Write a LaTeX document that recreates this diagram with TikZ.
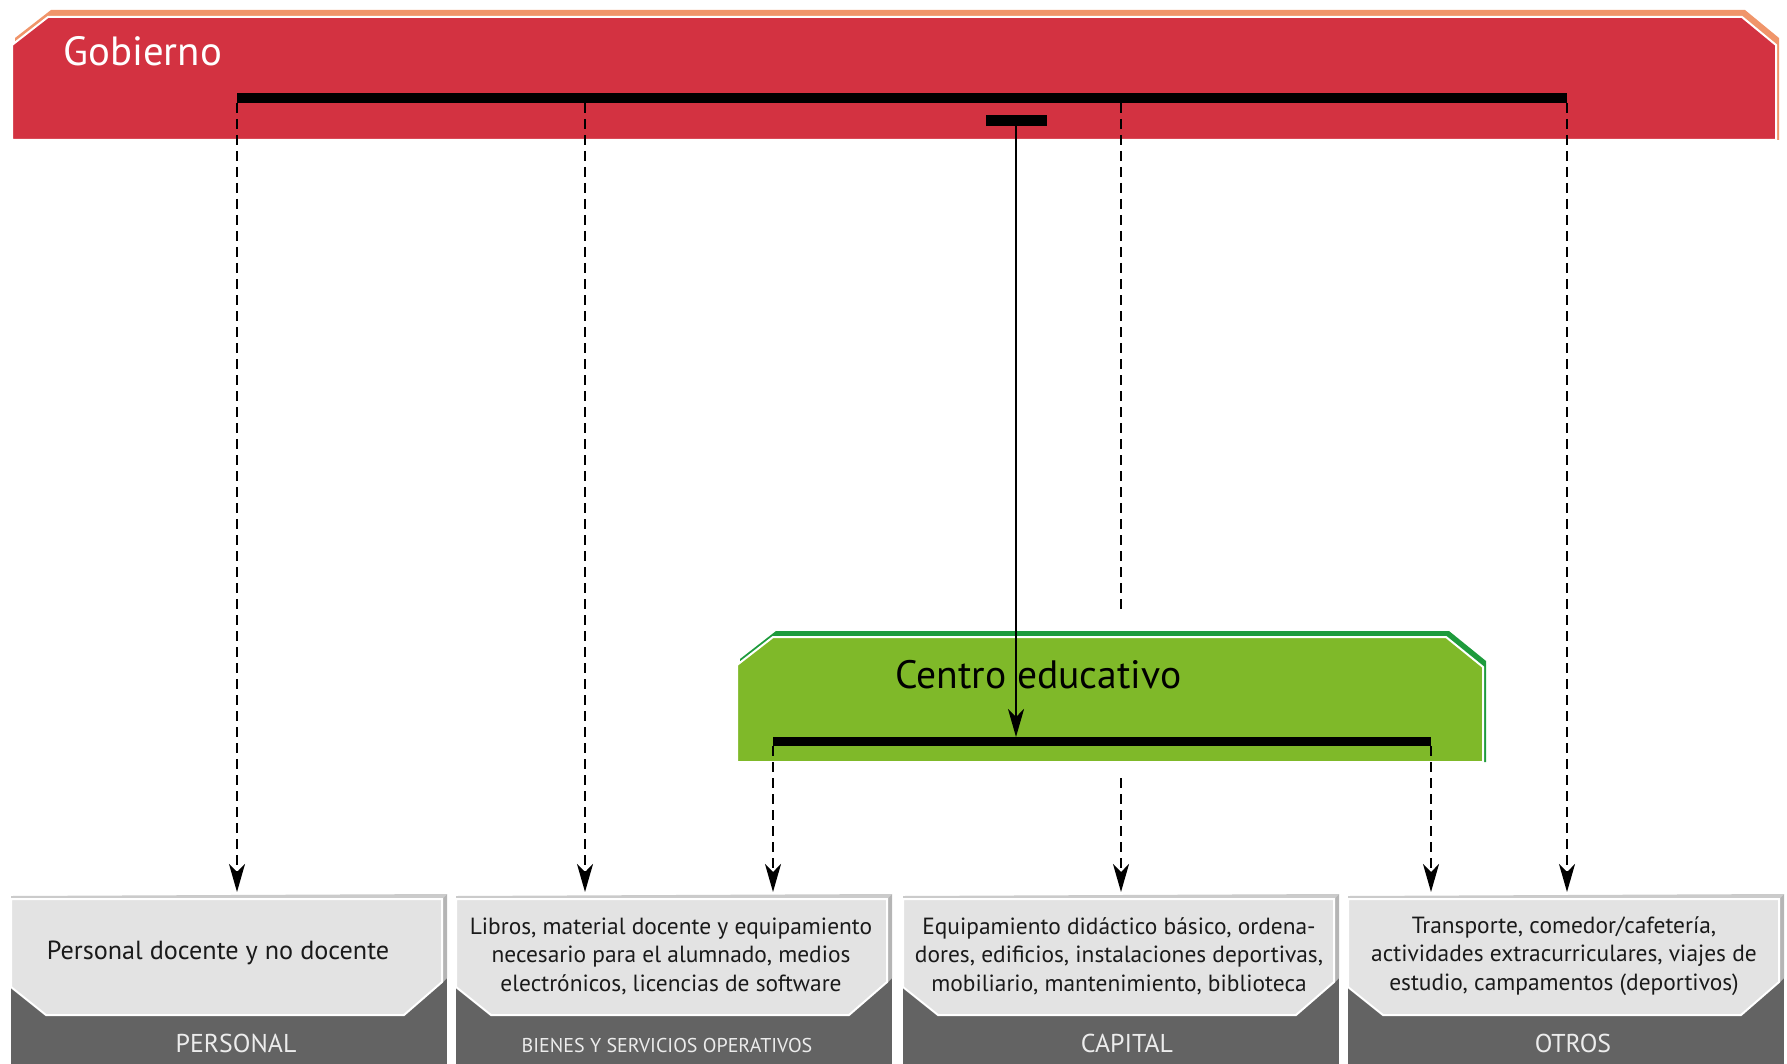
\documentclass[tikz,border=0pt]{standalone}
\usepackage{fontspec}
\setmainfont{PT Sans}
\usetikzlibrary{arrows.meta,calc}
\definecolor{gobred}{HTML}{D33241}
\definecolor{gobshade}{HTML}{F0956A}
\definecolor{cegreen}{HTML}{7FB929}
\definecolor{ceshade}{HTML}{1E9B3C}
\definecolor{boxdark}{HTML}{636363}
\definecolor{boxface}{HTML}{E3E3E3}
\definecolor{boxtop}{HTML}{CBCBCB}
\definecolor{boxside}{HTML}{B5B5B5}
\definecolor{boxtext}{HTML}{1A1A1A}
\definecolor{boxlabel}{HTML}{ECECEC}
\tikzset{
  barnode/.style={fill=black, inner sep=0pt, outer sep=0pt},
  solidarrow/.style={-{Stealth[length=14pt,width=8pt,inset=4pt]}, line width=0.9pt},
  dasharrow/.style={-{Stealth[length=14pt,width=8pt,inset=4pt]}, line width=0.9pt, dash pattern=on 5pt off 3pt},
  dashline/.style={line width=0.9pt, dash pattern=on 5pt off 3pt},
  facetext/.style={text=boxtext, align=center, font=\fontsize{11.7}{14.25}\selectfont, inner sep=0pt},
  labeltext/.style={text=boxlabel, inner sep=0pt, font=\fontsize{12.9}{14}\selectfont},
}
\begin{document}
\begin{tikzpicture}[x=0.5pt,y=-0.5pt]
\useasboundingbox (0,0) rectangle (1787,1064);
% Gobierno band
\fill[gobshade] (15,38) -- (51,10) -- (1745,10) -- (1779,38) -- (1779,140) -- (15,140) -- cycle;
\filldraw[fill=gobred, draw=white, line width=1pt] (12,45) -- (48,17) -- (1742,17) -- (1776,45) -- (1776,140) -- (12,140) -- cycle;
\node[anchor=base west, text=white, inner sep=0pt, font=\fontsize{20.4}{24}\selectfont] (gob) at (63,66) {Gobierno};
\node[barnode, minimum width=665pt, minimum height=5pt] (gbar) at (902,98) {};
\node[barnode, minimum width=30.5pt, minimum height=5.5pt] (sbar) at (1016,120.5) {};
% Centro educativo
\fill[ceshade] (740,659) -- (776,631) -- (1449,631) -- (1486,661) -- (1486,762) -- (740,762) -- cycle;
\filldraw[fill=cegreen, draw=white, line width=1pt] (737,665) -- (773,637) -- (1446,637) -- (1483,667) -- (1483,762) -- (737,762) -- cycle;
\node[anchor=base west, text=black, inner sep=0pt, font=\fontsize{19.8}{22}\selectfont] (ce) at (895,688) {Centro educativo};
\node[barnode, minimum width=329pt, minimum height=4.5pt] (ebar) at (1102,741.5) {};
% Bottom boxes
\foreach \L in {11,456,903,1348}{
  \fill[boxdark] (\L,975) rectangle (\L+436,1064);
  \fill[boxtop] (\L,896) -- (\L+436,894) -- (\L+431,899) -- (\L,899) -- cycle;
  \fill[boxside] (\L+431,899) -- (\L+436,894) -- (\L+436,978) -- (\L+431,983) -- cycle;
  \filldraw[fill=boxface, draw=white, line width=1pt] (\L,899) -- (\L+431,899) -- (\L+431,982) -- (\L+393,1015) -- (\L+35,1015) -- (\L,987) -- cycle;
}
\coordinate (b1) at (227,892);
\coordinate (b2) at (671,892);
\coordinate (b3) at (1118,892);
\coordinate (b4) at (1563,892);
\node[facetext, font=\fontsize{13.1}{15}\selectfont] (t1) at (218,953) {Personal docente y no docente};
\node[facetext] (t2) at (671,956) {Libros, material docente y equipamiento\\necesario para el alumnado, medios\\electrónicos, licencias de software};
\node[facetext] (t3) at (1119,956) {Equipamiento didáctico básico, ordena-\\dores, edificios, instalaciones deportivas,\\mobiliario, mantenimiento, biblioteca};
\node[facetext] (t4) at (1564,956) {Transporte, comedor/cafetería,\\actividades extracurriculares, viajes de\\estudio, campamentos (deportivos)};
\node[labeltext] (l1) at (236,1043) {PERSONAL};
\node[labeltext, font=\fontsize{10}{11}\selectfont] (l2) at (667,1045) {BIENES Y SERVICIOS OPERATIVOS};
\node[labeltext] (l3) at (1127,1043) {CAPITAL};
\node[labeltext] (l4) at (1573,1043) {OTROS};
% connectors
\coordinate (g2) at (585,103);
\coordinate (c3top) at (1121,612);
\coordinate (c3bot) at (1121,778);
\draw[dasharrow] (gbar.south west) -- (gbar.south west |- b1);
\draw[dasharrow] (gbar.south -| g2) -- (g2 |- b2);
\draw[dashline] (gbar.south -| c3top) -- (c3top);
\draw[dasharrow] (c3bot) -- (c3bot |- b3);
\draw[dasharrow] (gbar.south east) -- (gbar.south east |- b4);
\draw[solidarrow] (sbar.south) -- (sbar.south |- ebar.north);
\draw[dasharrow] (ebar.south west) -- (ebar.south west |- b2);
\draw[dasharrow] (ebar.south east) -- (ebar.south east |- b4);
\end{tikzpicture}
\end{document}
